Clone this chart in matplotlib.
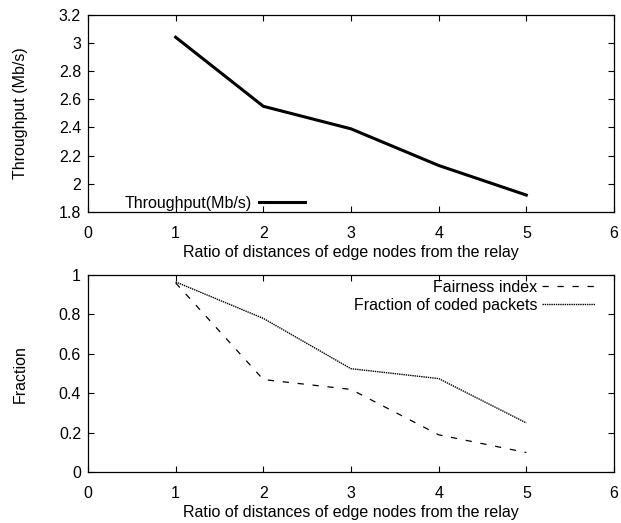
import numpy as np
import matplotlib
matplotlib.use('Agg')
import matplotlib.pyplot as plt

plt.rcParams['font.family'] = ['Liberation Sans', 'DejaVu Sans']
plt.rcParams['font.size'] = 11.5

# data
ratio = [1, 2, 3, 4, 5]
throughput = [3.04, 2.55, 2.39, 2.13, 1.92]
fairness = [0.96, 0.47, 0.42, 0.19, 0.10]
coded_frac = [0.965, 0.78, 0.525, 0.475, 0.25]

xticks = [0, 1, 2, 3, 4, 5, 6]
yticks_top = [1.8, 2, 2.2, 2.4, 2.6, 2.8, 3, 3.2]
yticks_bot = [0, 0.2, 0.4, 0.6, 0.8, 1]
xlab = 'Ratio of distances of edge nodes from the relay'

fig = plt.figure(figsize=(6.21, 5.23), dpi=100)
ax1 = fig.add_axes([0.1417, 0.5947, 0.847, 0.3772])
ax2 = fig.add_axes([0.1417, 0.0970, 0.847, 0.3772])


def style(ax, yt, ylab):
    ax.set_xlim(0, 6)
    ax.set_ylim(yt[0], yt[-1])
    ax.set_xticks(xticks)
    ax.set_yticks(yt)
    ax.set_yticklabels(['%g' % v for v in yt])
    ax.tick_params(direction='in', length=4, width=0.8, top=True, right=True,
                   labelsize=11.5)
    ax.tick_params(axis='x', pad=10)
    ax.tick_params(axis='y', pad=5)
    for s in ax.spines.values():
        s.set_linewidth(0.9)
    ax.set_xlabel(xlab, fontsize=11.5, va='center')
    ax.xaxis.set_label_coords(0.5, -0.205)
    ax.set_ylabel(ylab, fontsize=11.5, va='center')
    ax.yaxis.set_label_coords(-0.129, 0.5)


style(ax1, yticks_top, 'Throughput (Mb/s)')
style(ax2, yticks_bot, 'Fraction')

ax1.plot(ratio, throughput, color='black', lw=2.2, label='Throughput(Mb/s)')
ax1.legend(loc='lower right', bbox_to_anchor=(0.4125, 0.005), frameon=False,
           markerfirst=False, borderpad=0, borderaxespad=0, handlelength=2.9,
           handletextpad=0.4, fontsize=11.5)

ax2.plot(ratio, fairness, color='black', lw=0.9, linestyle=(0, (5, 7)),
         label='Fairness index')
ax2.plot(ratio, coded_frac, color='black', lw=1.0, linestyle=(0, (1, 0.6)),
         label='Fraction of coded packets')
ax2.legend(loc='upper right', bbox_to_anchor=(0.964, 0.976), frameon=False,
           markerfirst=False, borderpad=0, borderaxespad=0, handlelength=3.3,
           handletextpad=0.3, labelspacing=0.2, fontsize=11.5)

fig.savefig('out.png', dpi=100)
